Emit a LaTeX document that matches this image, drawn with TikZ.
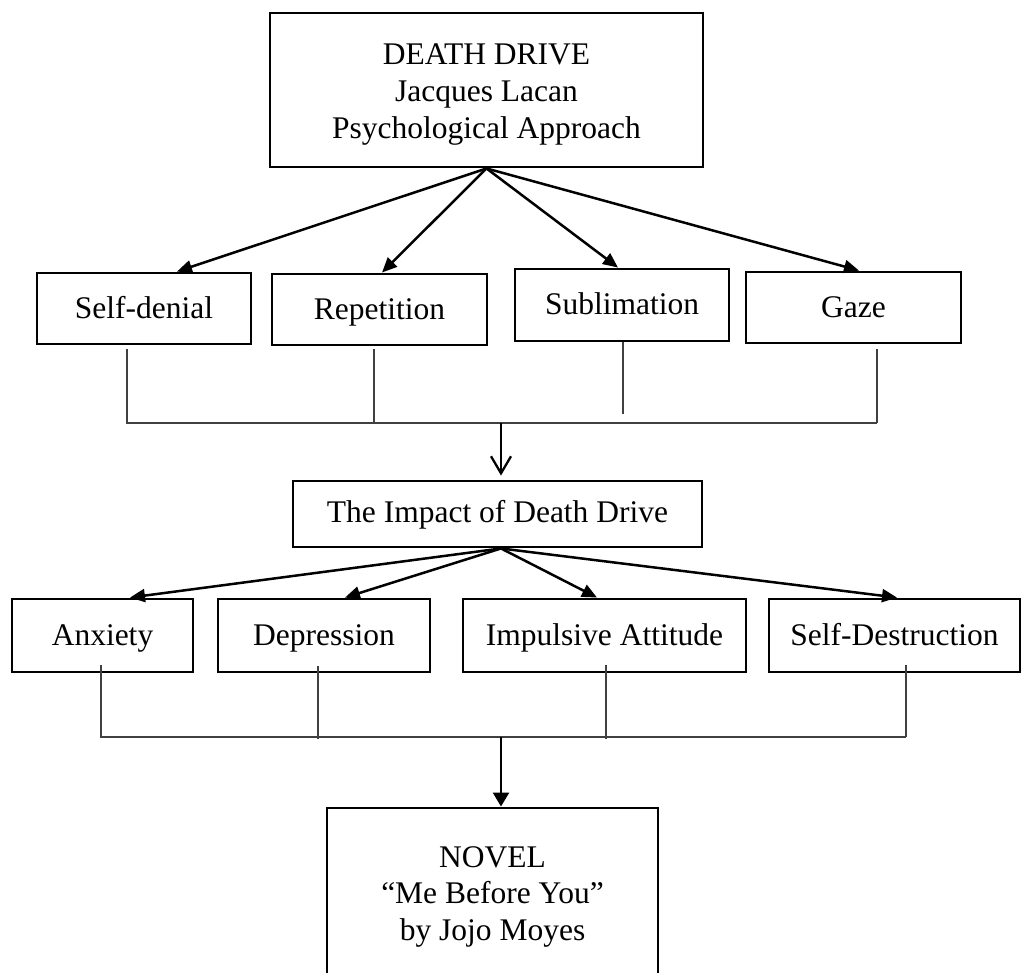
\documentclass[tikz,border=0pt]{standalone}
\usepackage{fontspec}
\setmainfont{Liberation Serif}
\usetikzlibrary{arrows.meta}
\begin{document}
\begin{tikzpicture}[x=1pt,y=-1pt,
  box/.style={draw,line width=2.9pt,rectangle,inner sep=0pt,align=center,
    font=\fontsize{31.5}{37}\selectfont},
  single/.style={text height=27pt,text depth=7pt},
  fan/.style={line width=2.5pt,-{Triangle[length=15pt,width=13pt]}},
  openarrow/.style={line width=2.3pt,-{Straight Barb[length=17pt,width=20pt]}},
  downarrow/.style={line width=2.3pt,-{Triangle[length=14pt,width=16pt]}},
  bus/.style={line width=1.2pt,black!75}]
\useasboundingbox (0,0) rectangle (1022,973);

% nodes
\node[box,minimum width=433pt,minimum height=154pt] (top) at (486.5,90)
  {\rule{0pt}{29pt}DEATH DRIVE\\Jacques Lacan\\Psychological Approach};

\node[box,single,minimum width=214pt,minimum height=71pt] (sd) at (144,308.5) {Self-denial};
\node[box,single,minimum width=215pt,minimum height=71pt] (rep) at (379.5,309.5) {Repetition};
\node[box,single,minimum width=214pt,minimum height=72pt] (sub) at (622,305) {Sublimation};
\node[box,single,minimum width=215pt,minimum height=71pt] (gaze) at (853.5,307.5) {Gaze};

\node[box,text height=23pt,text depth=7pt,minimum width=409pt,minimum height=66pt] (impact) at (497.5,514) {The Impact of Death Drive};

\node[box,single,minimum width=181pt,minimum height=73pt] (anx) at (102.5,635.5) {Anxiety};
\node[box,single,minimum width=212pt,minimum height=73pt] (dep) at (324,635.5) {Depression};
\node[box,single,minimum width=283pt,minimum height=73pt] (imp) at (604.5,635.5) {Impulsive Attitude};
\node[box,single,minimum width=251pt,minimum height=73pt] (sdes) at (894.5,635.5) {Self-Destruction};

\node[box,minimum width=331pt,minimum height=177pt,
  font=\fontsize{31.5}{36.5}\selectfont] (novel) at (492.5,896.5)
  {NOVEL\\“Me Before You”\\by Jojo Moyes};

% fan 1
\draw[fan] (top.south) -- ([xshift=33pt]sd.north);
\draw[fan] (top.south) -- ([xshift=2.5pt]rep.north);
\draw[fan] (top.south) -- ([xshift=-4pt]sub.north);
\draw[fan] (top.south) -- ([xshift=5.5pt]gaze.north);

% bus 1
\coordinate (j1a) at (127,423);
\coordinate (j1b) at (374,423);
\coordinate (j1c) at (623,414);
\coordinate (j1d) at (877,423);
\coordinate (m1) at (501,423);
\draw[bus] (sd.south -| j1a) ++(0,4) -- (j1a) -- (j1d);
\draw[bus] (rep.south -| j1b) ++(0,3) -- (j1b);
\draw[bus] (sub.south -| j1c) -- (j1c);
\draw[bus] (gaze.south -| j1d) ++(0,5) -- (j1d);
\draw[openarrow] (m1) -- ([yshift=4pt]impact.north -| m1);

% fan 2
\coordinate (m2) at (501,737);
\draw[fan] (impact.south -| m2) -- ([xshift=27.5pt]anx.north);
\draw[fan] (impact.south -| m2) -- ([xshift=21pt]dep.north);
\draw[fan] (impact.south -| m2) -- ([xshift=-7.5pt]imp.north);
\draw[fan] (impact.south -| m2) -- ([xshift=2.5pt]sdes.north);

% bus 2
\coordinate (j2a) at (101,737);
\coordinate (j2b) at (318,739);
\coordinate (j2c) at (606,739);
\coordinate (j2d) at (906,737);
\draw[bus] (anx.south -| j2a) ++(0,-8) -- (j2a) -- (j2d);
\draw[bus] (dep.south -| j2b) ++(0,-7) -- (j2b);
\draw[bus] (imp.south -| j2c) ++(0,-8) -- (j2c);
\draw[bus] (sdes.south -| j2d) ++(0,-8) -- (j2d);
\draw[downarrow] (m2) -- (novel.north -| m2);
\end{tikzpicture}
\end{document}
